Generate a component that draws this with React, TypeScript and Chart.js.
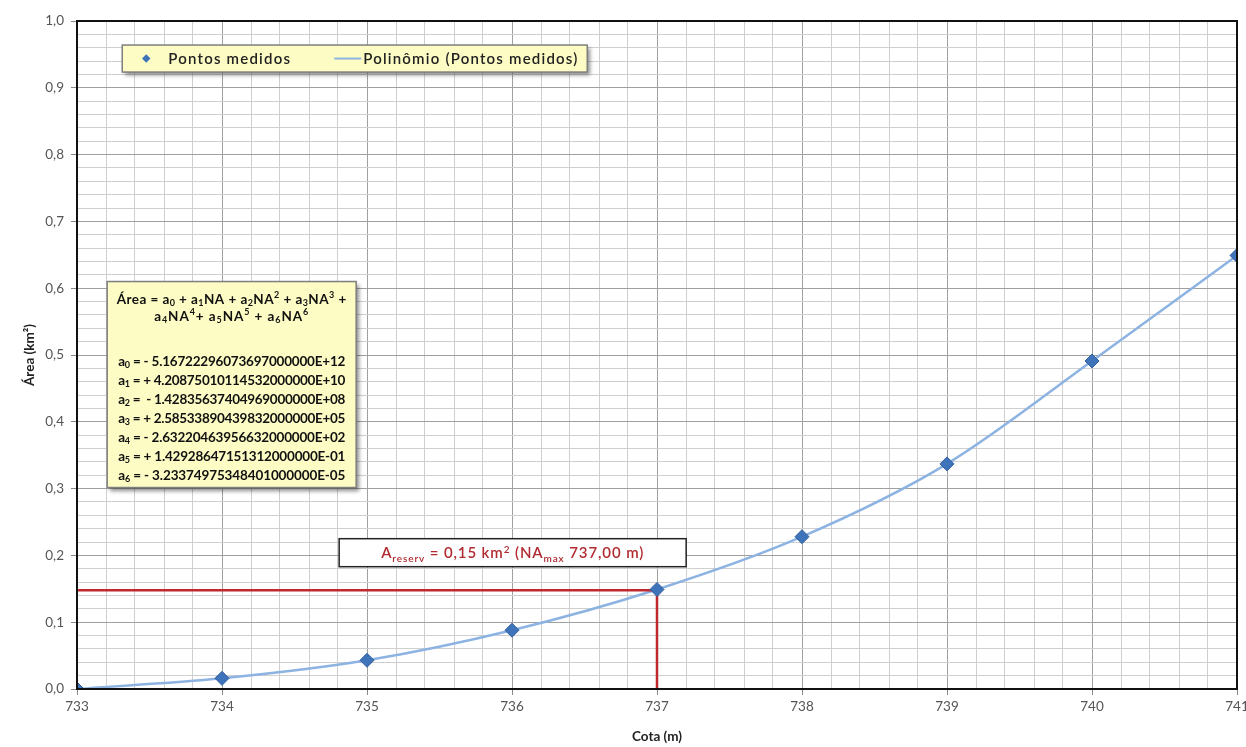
import React, { useEffect, useRef } from "react";
import { Chart, registerables } from "chart.js";

Chart.register(...registerables);

const cotas = [733, 734, 735, 736, 737, 738, 739, 740, 741];
const areas = [0.0, 0.016, 0.043, 0.088, 0.149, 0.228, 0.337, 0.491, 0.649];
const reservCota = 737;
const reservArea = 0.148;

const legendLabels = ["Pontos medidos", "Polinômio (Pontos medidos)"];
const eqLine1 = "Área = a_0 + a_1NA + a_2NA^2 + a_3NA^3 +";
const eqLine2 = "a_4NA^4+ a_5NA^5 + a_6NA^6";
const coefLines = [
  "a_0 = - 5.16722296073697000000E+12",
  "a_1 = + 4.20875010114532000000E+10",
  "a_2 =  - 1.42835637404969000000E+08",
  "a_3 = + 2.58533890439832000000E+05",
  "a_4 = - 2.63220463956632000000E+02",
  "a_5 = + 1.42928647151312000000E-01",
  "a_6 = - 3.23374975348401000000E-05",
];
const reservLabel = "A_reserv = 0,15 km^2 (NA_max 737,00 m)";

const FONT = "Lato, 'Open Sans', sans-serif";

type Seg = { t: string; k: "n" | "sub" | "sup" };
function parse(s: string): Seg[] {
  const out: Seg[] = [];
  let i = 0;
  let buf = "";
  while (i < s.length) {
    const c = s[i];
    if (c === "_" || c === "^") {
      if (buf) out.push({ t: buf, k: "n" });
      buf = "";
      let j = i + 1;
      let w = "";
      if (/[0-9]/.test(s[j])) {
        w = s[j];
        j++;
      } else {
        while (j < s.length && /[a-z]/.test(s[j])) {
          w += s[j];
          j++;
        }
      }
      out.push({ t: w, k: c === "_" ? "sub" : "sup" });
      i = j;
    } else {
      buf += c;
      i++;
    }
  }
  if (buf) out.push({ t: buf, k: "n" });
  return out;
}

function segSize(sg: Seg, size: number) {
  return sg.k === "n" ? size : Math.round(size * 0.68);
}

function measure(ctx: CanvasRenderingContext2D, segs: Seg[], size: number, weight: string, sp: number) {
  let w = 0;
  (ctx as any).letterSpacing = `${sp}px`;
  for (const sg of segs) {
    ctx.font = `${weight} ${segSize(sg, size)}px ${FONT}`;
    w += ctx.measureText(sg.t).width;
  }
  (ctx as any).letterSpacing = "0px";
  return w;
}

function drawRich(
  ctx: CanvasRenderingContext2D,
  s: string,
  x: number,
  y: number,
  size: number,
  weight: string,
  color: string,
  align: "left" | "center",
  targetW?: number,
  maxSp: number = 3
) {
  const segs = parse(s);
  let sp = 0;
  const nat = measure(ctx, segs, size, weight, 0);
  if (targetW) {
    const n = segs.reduce((a, g) => a + g.t.length, 0);
    sp = Math.max(-0.5, Math.min(maxSp, (targetW - nat) / n));
  }
  const w = measure(ctx, segs, size, weight, sp);
  let cx = align === "center" ? x - w / 2 : x;
  ctx.save();
  ctx.fillStyle = color;
  ctx.textBaseline = "alphabetic";
  ctx.textAlign = "left";
  (ctx as any).letterSpacing = `${sp}px`;
  for (const sg of segs) {
    ctx.font = `${weight} ${segSize(sg, size)}px ${FONT}`;
    const dy = sg.k === "sub" ? size * 0.22 : sg.k === "sup" ? -size * 0.38 : 0;
    ctx.fillText(sg.t, cx, y + dy);
    cx += ctx.measureText(sg.t).width;
  }
  ctx.restore();
}

function box(ctx: CanvasRenderingContext2D, x: number, y: number, w: number, h: number, fill: string, stroke: string, lw: number, shadow: boolean) {
  ctx.save();
  if (shadow) {
    ctx.shadowColor = "rgba(0,0,0,0.45)";
    ctx.shadowBlur = 4;
    ctx.shadowOffsetX = 3;
    ctx.shadowOffsetY = 3;
  }
  ctx.fillStyle = fill;
  ctx.fillRect(x, y, w, h);
  ctx.restore();
  ctx.save();
  ctx.strokeStyle = stroke;
  ctx.lineWidth = lw;
  ctx.strokeRect(x, y, w, h);
  ctx.restore();
}

const overlayPlugin = {
  id: "overlay",
  afterDraw(chart: any) {
    const ctx: CanvasRenderingContext2D = chart.ctx;
    const a = chart.chartArea;
    const W = a.right - a.left;
    const H = a.bottom - a.top;
    // frame
    ctx.save();
    ctx.strokeStyle = "#111";
    ctx.lineWidth = 2;
    ctx.strokeRect(a.left, a.top, W, H);
    ctx.restore();

    // legend box
    const lx = a.left + W * 0.039;
    const ly = a.top + H * 0.036;
    box(ctx, lx, ly, 465, 27, "#fdfcc4", "#7f7f7f", 1.5, true);
    ctx.save();
    ctx.fillStyle = "#3f74ba";
    ctx.translate(lx + 24, ly + 13.5);
    ctx.rotate(Math.PI / 4);
    ctx.fillRect(-3, -3, 6, 6);
    ctx.restore();
    drawRich(ctx, legendLabels[0], lx + 46, ly + 19, 15, "600", "#222", "left", 137, 1.2);
    ctx.save();
    ctx.strokeStyle = "#8db3e2";
    ctx.lineWidth = 2;
    ctx.beginPath();
    ctx.moveTo(lx + 212, ly + 13.5);
    ctx.lineTo(lx + 239, ly + 13.5);
    ctx.stroke();
    ctx.restore();
    drawRich(ctx, legendLabels[1], lx + 241, ly + 19, 15, "600", "#222", "left", 220, 1.2);

    // equation box
    const ex = a.left + W * 0.026;
    const ey = a.top + H * 0.39;
    const ew = 249;
    const eh = 206;
    box(ctx, ex, ey, ew, eh, "#fdfcc4", "#7f7f7f", 1.5, true);
    const cx = ex + ew / 2;
    drawRich(ctx, eqLine1, cx, ey + 22, 13.5, "bold", "#111", "center", 230);
    drawRich(ctx, eqLine2, cx, ey + 39, 13.5, "bold", "#111", "center", 155);
    coefLines.forEach((l, i) => {
      drawRich(ctx, l, cx, ey + 84 + i * 19, 13.5, "bold", "#111", "center", 227);
    });

    // reserv annotation box
    const rx = a.left + W * 0.226;
    const ry = a.top + H * 0.775;
    box(ctx, rx, ry, 347, 28, "#ffffff", "#222", 1.5, false);
    drawRich(ctx, reservLabel, rx + 173.5, ry + 19.5, 15, "600", "#b02a30", "center", 263, 1.2);
  },
};

export default function App() {
  const ref = useRef<HTMLCanvasElement>(null);
  useEffect(() => {
    document.body.style.margin = "0";
    const pts = cotas.map((c, i) => ({ x: c, y: areas[i] }));
    const red = [
      { x: cotas[0], y: reservArea },
      { x: reservCota, y: reservArea },
      { x: reservCota, y: 0 },
    ];
    const isMajX = (v: number) => Math.abs(v - Math.round(v)) < 1e-6;
    const isMajY = (v: number) => Math.abs(v * 10 - Math.round(v * 10)) < 1e-6;
    const chart = new Chart(ref.current!, {
      type: "scatter",
      data: {
        datasets: [
          {
            label: "Pontos medidos",
            data: pts,
            showLine: false,
            pointStyle: "rectRot",
            pointRadius: 7,
            backgroundColor: "#3f74ba",
            borderColor: "#2f5f9e",
            borderWidth: 1,
            order: 0,
          },
          {
            label: "reserv",
            data: red,
            showLine: true,
            borderColor: "#c0282d",
            borderWidth: 2.5,
            pointRadius: 0,
            tension: 0,
            order: 1,
          },
          {
            label: "Polinômio (Pontos medidos)",
            data: pts,
            showLine: true,
            borderColor: "#8db3e2",
            borderWidth: 2.5,
            pointRadius: 0,
            tension: 0.4,
            cubicInterpolationMode: "monotone",
            order: 2,
          } as any,
        ],
      },
      options: {
        animation: false,
        responsive: true,
        maintainAspectRatio: false,
        layout: { padding: { left: 18, top: 21, right: 9, bottom: 0 } },
        plugins: { legend: { display: false }, tooltip: { enabled: false } },
        scales: {
          x: {
            type: "linear",
            min: 733,
            max: 741,
            ticks: {
              stepSize: 0.2,
              autoSkip: false,
              maxRotation: 0,
              color: "#555",
              font: { family: FONT, size: 13.5 },
              padding: 4,
              callback: (v: any) => (isMajX(v) ? String(Math.round(v)) : ""),
            },
            grid: {
              color: (c: any) => (isMajX(c.tick.value) ? "#a0a0a0" : "#cfcfcf"),
              lineWidth: 1,
              tickLength: 6,
              tickColor: (c: any) => (isMajX(c.tick.value) ? "#888" : "rgba(0,0,0,0)"),
            },
            border: { display: false },
            title: {
              display: true,
              text: "Cota (m)",
              color: "#222",
              font: { family: FONT, size: 13.5, weight: "bold" },
              padding: { top: 4, bottom: 2 },
            },
            afterFit: (s: any) => {
              s.height = 58;
              s.paddingLeft = 0;
              s.paddingRight = 0;
            },
          },
          y: {
            type: "linear",
            min: 0,
            max: 1,
            ticks: {
              stepSize: 0.02,
              autoSkip: false,
              color: "#555",
              font: { family: FONT, size: 13.5 },
              padding: 7,
              callback: (v: any) => (isMajY(v) ? Number(v).toFixed(1).replace(".", ",") : ""),
            },
            grid: {
              color: (c: any) => (isMajY(c.tick.value) ? "#a0a0a0" : "#cfcfcf"),
              lineWidth: 1,
              tickLength: 6,
              tickColor: (c: any) => (isMajY(c.tick.value) ? "#888" : "rgba(0,0,0,0)"),
            },
            border: { display: false },
            title: {
              display: true,
              text: "Área (km²)",
              color: "#222",
              font: { family: FONT, size: 13.5, weight: "bold" },
              padding: { top: 4, bottom: 4 },
            },
            afterFit: (s: any) => {
              s.width = 59;
              s.paddingTop = 0;
              s.paddingBottom = 0;
            },
          },
        },
      },
      plugins: [overlayPlugin],
    } as any);
    return () => chart.destroy();
  }, []);
  return (
    <div style={{ position: "absolute", left: 0, top: 0, width: 1246, height: 747, background: "#fff" }}>
      <canvas ref={ref} />
    </div>
  );
}
